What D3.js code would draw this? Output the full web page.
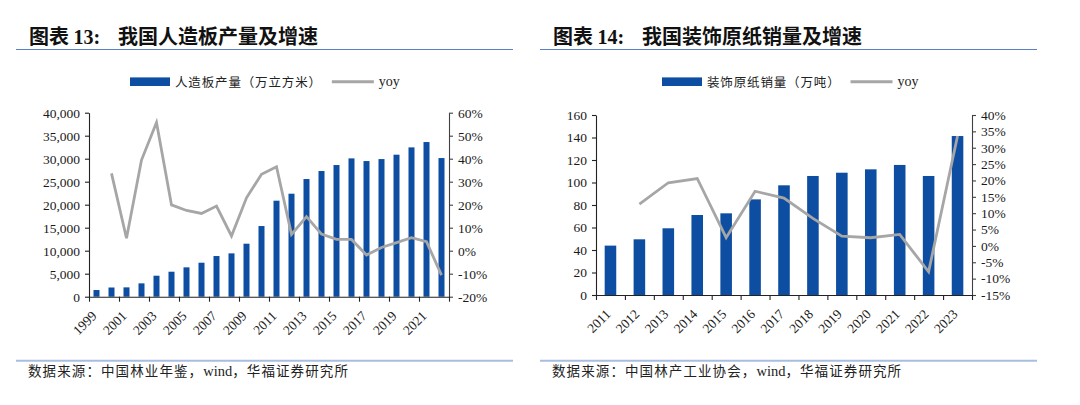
<!DOCTYPE html>
<html>
<head>
<meta charset="utf-8">
<script src="https://cdn.jsdelivr.net/npm/d3@7"></script>
<style>
  body { margin: 0; background: #fff; }
  svg { display: block; }
</style>
</head>
<body>
<svg id="chart" width="1080" height="405"></svg>
<script>
// ---- data ----
// Figure 13: wood-based panel output (10k m3) and yoy
const years13 = ["1999", "2000", "2001", "2002", "2003", "2004", "2005", "2006", "2007", "2008", "2009", "2010",
  "2011", "2012", "2013", "2014", "2015", "2016", "2017", "2018", "2019", "2020", "2021", "2022"];
const output13 = [1450, 2000, 2030, 2900, 4560, 5430, 6380, 7390, 8840, 9420, 11520, 15360,
  20870, 22390, 25580, 27320, 28620, 30070, 29490, 29920, 30870, 32460, 33620, 30140];
const yoy13 = [null, 33.6, 5.4, 39.4, 55.7, 19.9, 17.5, 16.2, 19.4, 6.4, 23.0, 33.2,
  36.5, 7.1, 14.8, 7.2, 4.9, 4.9, -1.9, 1.4, 3.5, 5.7, 3.9, -10.6];
const xLabels13 = ["1999", "2001", "2003", "2005", "2007", "2009", "2011", "2013", "2015", "2017", "2019", "2021"];
const leftTicks13 = [0, 5000, 10000, 15000, 20000, 25000, 30000, 35000, 40000];
const rightTicks13 = [-20, -10, 0, 10, 20, 30, 40, 50, 60];

// Figure 14: decorative base paper sales (10k t) and yoy
const years14 = ["2011", "2012", "2013", "2014", "2015", "2016", "2017", "2018", "2019", "2020", "2021", "2022", "2023"];
const sales14 = [43.9, 49.5, 59.3, 71.1, 72.6, 85.0, 97.5, 105.8, 108.7, 111.7, 115.6, 105.8, 141.3];
const yoy14 = [null, 12.8, 19.3, 20.6, 2.5, 16.7, 14.6, 8.4, 3.0, 2.5, 3.5, -7.9, 33.6];
const xLabels14 = years14;
const leftTicks14 = [0, 20, 40, 60, 80, 100, 120, 140, 160];
const rightTicks14 = [-15, -10, -5, 0, 5, 10, 15, 20, 25, 30, 35, 40];

const BAR = "#0d4ea2";
const LINE = "#a6a6a6";
const SERIF = "'Liberation Serif', 'Times New Roman', serif";
const CJK = "'Noto Sans CJK SC', sans-serif";

const svg = d3.select("#chart");

function drawPanel(p) {
  const g = svg.append("g");

  // title + rule
  g.append("text")
    .attr("x", p.titleX).attr("y", 43.5)
    .style("font-family", CJK).style("font-size", "20px").style("font-weight", "bold")
    .attr("fill", "#111")
    .text("图表 ")
    .append("tspan")
    .style("font-family", SERIF)
    .text(p.no);
  g.append("text")
    .attr("x", p.titleX + 89).attr("y", 43.5)
    .style("font-family", CJK).style("font-size", "20px").style("font-weight", "bold")
    .attr("fill", "#111")
    .text(p.title);
  g.append("line")
    .attr("x1", p.rule[0]).attr("x2", p.rule[1])
    .attr("y1", 49.5).attr("y2", 49.5)
    .attr("stroke", "#5b7fc8").attr("stroke-width", 1.2);

  // legend
  const ly = 81.7;
  g.append("rect")
    .attr("x", p.legendX).attr("y", ly - 4.3)
    .attr("width", 40).attr("height", 8.6)
    .attr("fill", BAR);
  const lt = g.append("text")
    .attr("x", p.legendX + 45).attr("y", ly)
    .attr("dominant-baseline", "central")
    .style("font-family", CJK).style("font-size", "12.5px").style("letter-spacing", "0.85px")
    .attr("fill", "#222")
    .text(p.legend);
  const lend = p.legendX + 45 + lt.node().getComputedTextLength() + 10;
  g.append("line")
    .attr("x1", lend).attr("x2", lend + 42)
    .attr("y1", ly).attr("y2", ly)
    .attr("stroke", LINE).attr("stroke-width", 3);
  g.append("text")
    .attr("x", lend + 47).attr("y", ly)
    .attr("dominant-baseline", "central")
    .style("font-family", SERIF).style("font-size", "14px")
    .attr("fill", "#222")
    .text("yoy");

  // scales
  const x = d3.scaleBand().domain(p.years).range([p.x0, p.x1]).paddingInner(0.6).paddingOuter(0.3);
  const xi = d3.scaleLinear().domain([0, p.years.length]).range([p.x0, p.x1]);
  const y = d3.scaleLinear().domain(d3.extent(p.leftTicks)).range([p.y1, p.y0]);
  const y2 = d3.scaleLinear().domain(d3.extent(p.rightTicks)).range([p.y1, p.y0]);

  // bars
  g.append("g").selectAll("rect")
    .data(p.years.map((yr, i) => ({ yr, v: p.values[i] })))
    .join("rect")
    .attr("x", d => x(d.yr))
    .attr("width", x.bandwidth())
    .attr("y", d => y(d.v))
    .attr("height", d => y(0) - y(d.v))
    .attr("fill", BAR);

  // yoy line
  const line = d3.line()
    .defined(d => d.v != null)
    .x(d => x(d.yr) + x.bandwidth() / 2)
    .y(d => y2(d.v));
  g.append("path")
    .datum(p.years.map((yr, i) => ({ yr, v: p.yoy[i] })))
    .attr("d", line)
    .attr("fill", "none")
    .attr("stroke", LINE)
    .attr("stroke-width", 2.8)
    .attr("stroke-linejoin", "miter");

  // axes
  const styleAxis = (sel, color) => {
    sel.selectAll("path, line").attr("stroke", color).attr("stroke-width", 1.1);
    sel.selectAll("text")
      .style("font-family", SERIF).style("font-size", "13.5px").attr("fill", "#1a1a1a");
  };

  g.append("g")
    .attr("transform", `translate(${p.x0},0)`)
    .call(d3.axisLeft(y).tickValues(p.leftTicks).tickSize(4).tickSizeOuter(0).tickPadding(5)
      .tickFormat(p.leftFormat))
    .call(sel => styleAxis(sel, "#222"));

  g.append("g")
    .attr("transform", `translate(${p.x1},0)`)
    .call(d3.axisRight(y2).tickValues(p.rightTicks).tickSize(4).tickSizeOuter(0).tickPadding(5)
      .tickFormat(d => d + "%"))
    .call(sel => styleAxis(sel, "#404040"));

  g.append("g")
    .attr("transform", `translate(0,${p.y1})`)
    .call(d3.axisBottom(xi).tickValues(d3.range(0, p.years.length + 1, p.tickEvery))
      .tickSize(5).tickSizeOuter(0).tickFormat(""))
    .call(sel => styleAxis(sel, "#222"));

  g.append("g").selectAll("text")
    .data(p.xLabels)
    .join("text")
    .attr("text-anchor", "end")
    .attr("transform", d => `translate(${x(d) + x.bandwidth() / 2 + 1},${p.y1 + 20}) rotate(-45)`)
    .style("font-family", SERIF).style("font-size", "13.5px")
    .attr("fill", "#1a1a1a")
    .text(d => d);

  // source
  g.append("line")
    .attr("x1", p.rule[0]).attr("x2", p.rule[1])
    .attr("y1", 360.7).attr("y2", 360.7)
    .attr("stroke", "#a9bde0").attr("stroke-width", 2);
  const src = g.append("text")
    .attr("x", p.titleX - 1).attr("y", 375.5)
    .style("font-family", CJK).style("font-size", "13.5px").style("letter-spacing", "1.1px")
    .attr("fill", "#222");
  src.append("tspan").text(p.source[0]);
  src.append("tspan").style("font-family", SERIF).style("font-size", "14.5px")
    .style("letter-spacing", "0px").text("wind");
  src.append("tspan").text(p.source[1]);
}

drawPanel({
  no: "13:", title: "我国人造板产量及增速", titleX: 29, rule: [16, 513],
  legendX: 130, legend: "人造板产量（万立方米）",
  years: years13, values: output13, yoy: yoy13, xLabels: xLabels13,
  leftTicks: leftTicks13, rightTicks: rightTicks13, leftFormat: d3.format(","),
  x0: 89, x1: 449, y0: 112.7, y1: 296.7, tickEvery: 2,
  source: ["数据来源：中国林业年鉴，", "，华福证券研究所"]
});

drawPanel({
  no: "14:", title: "我国装饰原纸销量及增速", titleX: 553, rule: [540, 1037],
  legendX: 662, legend: "装饰原纸销量（万吨）",
  years: years14, values: sales14, yoy: yoy14, xLabels: xLabels14,
  leftTicks: leftTicks14, rightTicks: rightTicks14, leftFormat: d3.format("d"),
  x0: 596, x1: 972, y0: 115, y1: 295, tickEvery: 1,
  source: ["数据来源：中国林产工业协会，", "，华福证券研究所"]
});
</script>
</body>
</html>
